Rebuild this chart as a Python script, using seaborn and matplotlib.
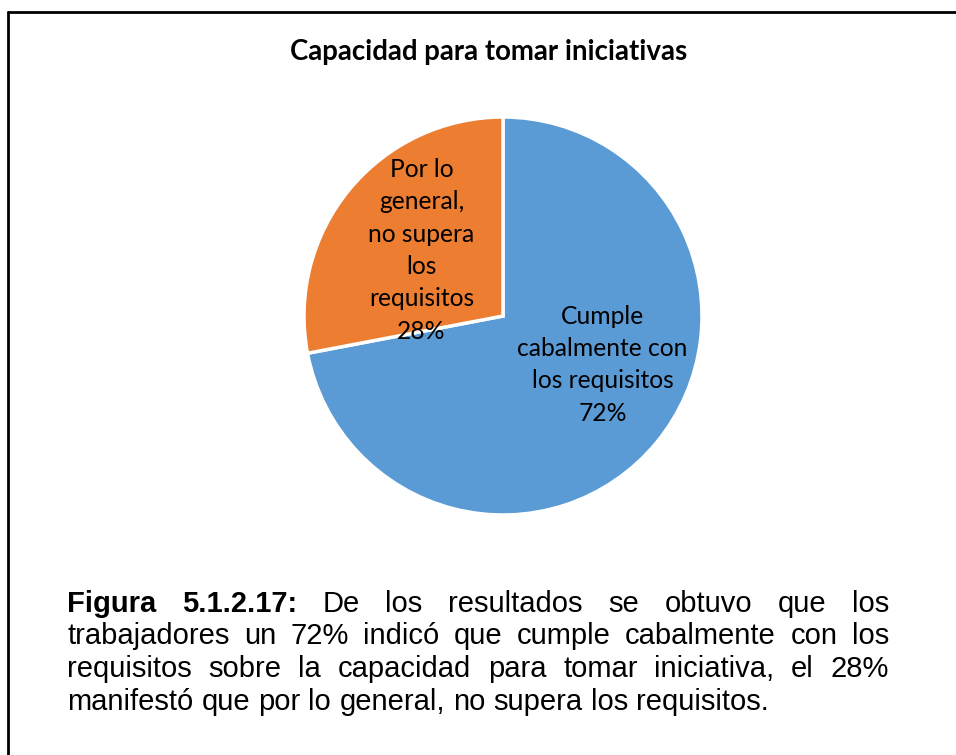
import matplotlib
matplotlib.use("Agg")
import matplotlib.pyplot as plt
from matplotlib.lines import Line2D
import seaborn as sns

# ---- data ----
categories = ["Cumple\ncabalmente con\nlos requisitos",
              "Por lo\ngeneral,\nno supera\nlos\nrequisitos"]
values = [72, 28]
colors = ["#5B9BD5", "#ED7D31"]
title = "Capacidad para tomar iniciativas"
caption_lines = [
    "Figura 5.1.2.17: De los resultados se obtuvo que los",
    "trabajadores un 72% indicó que cumple cabalmente con los",
    "requisitos sobre la capacidad para tomar iniciativa, el 28%",
    "manifestó que por lo general, no supera los requisitos.",
]
bold_words = 2  # "Figura 5.1.2.17:" is set in bold

sns.set_theme(style="white")
plt.rcParams["font.family"] = ["Lato", "DejaVu Sans"]
plt.rcParams["text.color"] = "black"

W, H = 956, 755
fig = plt.figure(figsize=(W / 100, H / 100), dpi=100)
fig.patch.set_facecolor("white")


def fx(px):
    return px / W


def fy(py):
    return 1 - py / H


# frame around the figure (left and top edges)
fig.add_artist(Line2D([fx(7.5), fx(7.5)], [fy(11.5), fy(760)], color="black",
                      lw=2.0, transform=fig.transFigure))
fig.add_artist(Line2D([fx(7.5), fx(960)], [fy(11.5), fy(11.5)], color="black",
                      lw=2.0, transform=fig.transFigure))

# title
fig.text(fx(488.5), fy(60), title, ha="center", va="baseline", color="black",
         fontsize=19.9, fontweight="bold", family=["Lato", "DejaVu Sans"])

# pie
cx, cy, r = 503, 316, 199
ax = fig.add_axes([fx(cx - r), fy(cy + r), 2 * r / W, 2 * r / H])
labels = [f"{c}\n{v}%" for c, v in zip(categories, values)]
wedges, texts = ax.pie(values, colors=colors, startangle=90, counterclock=False,
                       labels=labels, labeldistance=0.57,
                       wedgeprops=dict(edgecolor="white", linewidth=2.5),
                       textprops=dict(fontsize=17.7, color="black", ha="center",
                                      va="center", linespacing=1.49))
texts[0].set_position((0.50, -0.245))
texts[1].set_position((-0.41, 0.33))
ax.set_xlim(-1, 1)
ax.set_ylim(-1, 1)
ax.set_aspect("equal")
ax.axis("off")

# justified caption
x0, x1 = 67, 889
base0, step = 612, 32.5
cap_size = 21
cap_family = ["Liberation Sans", "DejaVu Sans"]
renderer = fig.canvas.get_renderer()
word_index = 0
for i, line in enumerate(caption_lines):
    words = line.split(" ")
    arts = []
    for w in words:
        weight = "bold" if word_index < bold_words else "normal"
        word_index += 1
        t = fig.text(0, fy(base0 + i * step), w, ha="left", va="baseline",
                     fontsize=cap_size, fontweight=weight, color="black",
                     family=cap_family)
        arts.append(t)
    widths = [a.get_window_extent(renderer).width for a in arts]
    if i < len(caption_lines) - 1:
        gap = (x1 - x0 - sum(widths)) / (len(words) - 1)
    else:
        sp = fig.text(0, 0, "a a", fontsize=cap_size, family=cap_family)
        sp2 = fig.text(0, 0, "aa", fontsize=cap_size, family=cap_family)
        gap = sp.get_window_extent(renderer).width - sp2.get_window_extent(renderer).width
        sp.remove()
        sp2.remove()
    x = x0
    for a, wd in zip(arts, widths):
        a.set_x(fx(x))
        x += wd + gap

fig.savefig("out.png", dpi=100, facecolor="white")
